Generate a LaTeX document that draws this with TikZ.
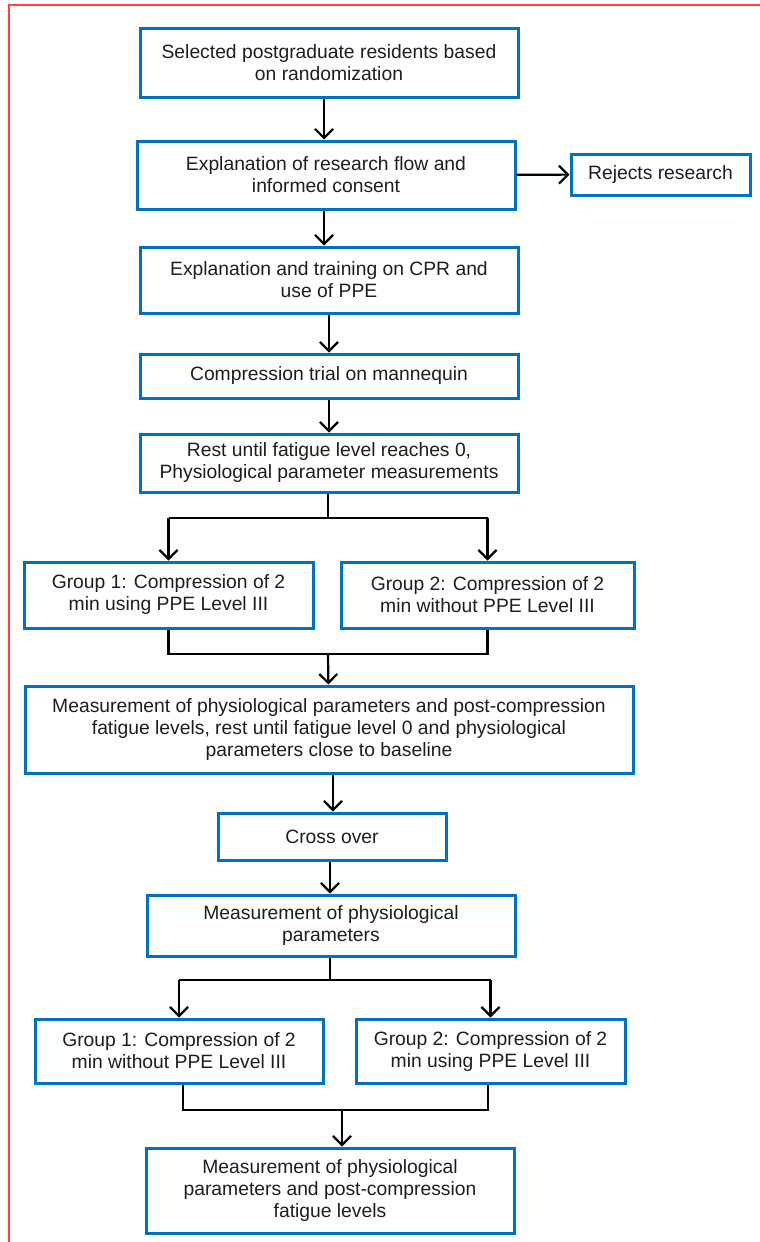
\documentclass[tikz,border=0pt]{standalone}
\usepackage{fontspec}
\setmainfont{Liberation Sans}
\usepackage{tikz}
\usetikzlibrary{arrows.meta}
\definecolor{boxblue}{RGB}{0,112,192}
\definecolor{txtgray}{RGB}{30,30,30}
\tikzset{
  stepbox/.style={draw=boxblue, line width=3pt, fill=white, text=txtgray, align=center,
    inner sep=0pt, font=\fontsize{19.3}{22}\selectfont},
  flow/.style={line width=2.2pt, black},
  arr/.style={flow, -{Straight Barb[length=9pt,width=18pt,line width=2.2pt]}}
}

\begin{document}
\begin{tikzpicture}[x=1pt,y=-1pt]
\useasboundingbox (0,0) rectangle (760,1242);
\draw[red!75, line width=2pt] (9,1242) -- (9,5) -- (760,5);

\node[stepbox, minimum width=378pt, minimum height=69pt] (sel) at (329,62.5)
  {Selected postgraduate residents based\\on randomization};
\node[stepbox, minimum width=378pt, minimum height=68pt] (expl) at (326,175)
  {Explanation of research flow and\\informed consent};
\node[stepbox, minimum width=179pt, minimum height=41pt] (rej) at (660.5,174.5)
  {Rejects research};
\node[stepbox, minimum width=378pt, minimum height=66pt] (train) at (329,280)
  {Explanation and training on CPR and\\use of PPE};
\node[stepbox, minimum width=378pt, minimum height=44pt] (trial) at (329,376)
  {Compression trial on mannequin};
\node[stepbox, minimum width=378pt, minimum height=58pt] (rest) at (329,463)
  {Rest until fatigue level reaches 0,\\Physiological parameter measurements};
\node[stepbox, minimum width=289pt, minimum height=66pt] (gA1) at (168.5,595)
  {Group 1: Compression of 2\\min using PPE Level III};
\node[stepbox, minimum width=293pt, minimum height=66pt] (gB1) at (487.5,595)
  {Group 2: Compression of 2\\min without PPE Level III};
\node[stepbox, minimum width=608pt, minimum height=87pt] (meas) at (329,729.5)
  {Measurement of physiological parameters and post-compression\\fatigue levels, rest until fatigue level 0 and physiological\\parameters close to baseline};
\node[stepbox, minimum width=228pt, minimum height=47pt] (cross) at (332,836.5)
  {Cross over};
\node[stepbox, minimum width=368pt, minimum height=61pt] (phys) at (331,925.5)
  {Measurement of physiological\\parameters};
\node[stepbox, minimum width=288pt, minimum height=64pt] (gA2) at (179,1051)
  {Group 1: Compression of 2\\min without PPE Level III};
\node[stepbox, minimum width=269pt, minimum height=64pt] (gB2) at (490.5,1051)
  {Group 2: Compression of 2\\min using PPE Level III};
\node[stepbox, minimum width=368pt, minimum height=85pt] (final) at (330,1190.5)
  {Measurement of physiological\\parameters and post-compression\\fatigue levels};

\coordinate (j1) at (328,518);
\coordinate (j2) at (328,654);
\coordinate (j3) at (330,980);
\coordinate (j4) at (342,1110);

\draw[arr] (sel.south -| 324,0) -- (expl.north -| 324,0);
\draw[arr] (expl) -- (rej);
\draw[arr] (expl.south -| 324,0) -- (train.north -| 324,0);
\draw[arr] (train) -- (trial);
\draw[arr] (trial) -- (rest);
\draw[flow] (rest.south -| j1) -- (j1);
\draw[flow] (j1 -| gA1) -- (j1 -| gB1);
\draw[arr] (j1 -| gA1) -- (gA1);
\draw[arr] (j1 -| gB1) -- (gB1);
\draw[flow] (gA1) |- (j2);
\draw[flow] (gB1) |- (j2);
\draw[arr] (j2) -- (meas);
\draw[arr] (meas.south -| 333,0) -- (cross.north -| 333,0);
\draw[arr] (cross.south -| 330,0) -- (phys.north -| 330,0);
\draw[flow] (phys.south -| j3) -- (j3);
\draw[flow] (j3 -| gA2) -- (j3 -| gB2);
\draw[arr] (j3 -| gA2) -- (gA2);
\draw[arr] (j3 -| gB2) -- (gB2);
\draw[flow] (gA2.south -| 183,0) |- (j4);
\draw[flow] (gB2.south -| 488,0) |- (j4);
\draw[arr] (j4) -- (j4 |- final.north);
\end{tikzpicture}
\end{document}
